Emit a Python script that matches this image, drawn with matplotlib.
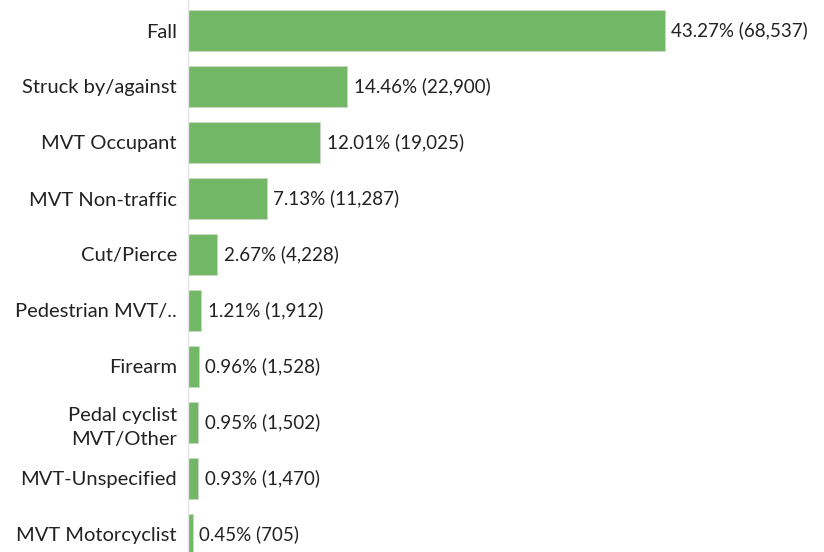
import matplotlib.pyplot as plt

# injury mechanism shares
categories = ["Fall", "Struck by/against", "MVT Occupant", "MVT Non-traffic",
              "Cut/Pierce", "Pedestrian MVT/..", "Firearm",
              "Pedal cyclist\nMVT/Other", "MVT-Unspecified", "MVT Motorcyclist"]
percents = [43.27, 14.46, 12.01, 7.13, 2.67, 1.21, 0.96, 0.95, 0.93, 0.45]
counts = [68537, 22900, 19025, 11287, 4228, 1912, 1528, 1502, 1470, 705]

plt.rcParams['font.family'] = ['Lato', 'DejaVu Sans']

W, H = 824, 552
fig = plt.figure(figsize=(W / 100, H / 100), dpi=100)
left_px = 188
ax = fig.add_axes([left_px / W, 0, (W - left_px) / W, 1])

px_per_unit = 477 / 43.27
ax.set_xlim(0, (W - left_px) / px_per_unit)
row_px = 56
top_center = 30.5
ax.set_ylim((H - top_center) / row_px, -top_center / row_px)

ypos = list(range(len(categories)))
ax.barh(ypos, percents, height=0.74, color="#71b766", edgecolor="#c9d9c6", linewidth=0.6)

for y, p, c in zip(ypos, percents, counts):
    ax.annotate(f"{p:.2f}% ({c:,})", xy=(p, y), xytext=(4.5, 0), textcoords="offset points",
                va="center", ha="left", fontsize=13.5, color="#222222")

ax.set_yticks(ypos)
ax.set_yticklabels(categories, fontsize=14.5, color="#222222", ha="right",
                   linespacing=1.5)
ax.tick_params(axis="y", length=0, pad=8)
ax.set_xticks([])
for s in ["top", "right", "bottom"]:
    ax.spines[s].set_visible(False)
ax.spines["left"].set_color("#e4e4e4")
ax.spines["left"].set_linewidth(1)

fig.savefig("out.png", dpi=100)
